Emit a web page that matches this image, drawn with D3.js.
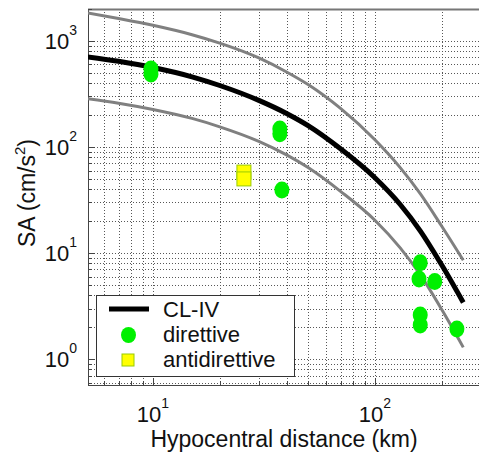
<!DOCTYPE html>
<html>
<head>
<meta charset="utf-8">
<script src="https://cdn.jsdelivr.net/npm/d3@7"></script>
<style>
  body { margin: 0; background: #fff; }
  svg { display: block; font-family: Arial, "Liberation Sans", sans-serif; }
</style>
</head>
<body>
<svg id="chart" width="479" height="456"></svg>
<script>
// attenuation curve CL-IV (median and +/- band)
const distKm   = [5, 7, 10, 15, 20, 30, 40, 50, 70, 100, 130, 160, 200, 250];
const clMedian = [710, 642, 562, 459, 380, 275, 207, 159, 96.1, 51.3, 28.7, 16.2, 7.7, 3.42];
const clUpper  = [1849, 1627, 1403, 1144, 953, 691, 510, 388, 231, 117, 63.9, 36.3, 17.9, 8.56];
const clLower  = [286, 259, 226, 186, 155, 113, 84.2, 64.0, 38.2, 20.4, 11.2, 6.25, 2.93, 1.29];

// recorded spectral accelerations
const dirDist  = [9.8, 9.8, 37.3, 37.3, 38.1, 160, 158, 186, 160, 160, 234];
const dirSA    = [544, 488, 148, 133, 39.3, 8.1, 5.7, 5.4, 2.6, 2.1, 1.92];
const antiDist = [25.7, 25.7];
const antiSA   = [58, 50];

const legendLabels = ["CL-IV", "direttive", "antidirettive"];

const svg = d3.select("#chart");
const pLeft = 88, pTop = 9, pBottom = 385, pRight = 479;

const x = d3.scaleLog().domain([5.1, 300]).range([pLeft, pLeft + 222 * Math.log10(300 / 5.1)]);
const y = d3.scaleLog().domain([0.57, 2000]).range([pBottom, pTop]);

svg.append("defs").append("clipPath").attr("id", "plot")
  .append("rect").attr("x", pLeft).attr("y", pTop).attr("width", pRight - pLeft).attr("height", pBottom - pTop);

// dotted grid, major and minor
const grid = svg.append("g").attr("stroke", "#111").attr("stroke-width", 1)
  .attr("stroke-dasharray", "1,2").attr("opacity", 0.7);
grid.selectAll(".gx").data(x.ticks()).join("line")
  .attr("x1", d => Math.round(x(d)) + 0.5).attr("x2", d => Math.round(x(d)) + 0.5)
  .attr("y1", pTop).attr("y2", pBottom);
grid.selectAll(".gy").data(y.ticks()).join("line")
  .attr("y1", d => Math.round(y(d)) + 0.5).attr("y2", d => Math.round(y(d)) + 0.5)
  .attr("x1", pLeft).attr("x2", pRight);

// axes box (left, bottom, top) with inward ticks
const isMajor = d => Math.abs(Math.log10(d) - Math.round(Math.log10(d))) < 1e-9;
const ax = svg.append("g").attr("stroke", "#444").attr("stroke-width", 1);
ax.append("line").attr("x1", pLeft + 0.5).attr("x2", pLeft + 0.5).attr("y1", pTop).attr("y2", pBottom + 0.5);
ax.append("line").attr("x1", pLeft).attr("x2", pRight).attr("y1", pBottom + 0.5).attr("y2", pBottom + 0.5);
ax.append("line").attr("x1", pLeft).attr("x2", pRight).attr("y1", pTop + 0.5).attr("y2", pTop + 0.5)
  .attr("stroke", "#777").attr("stroke-width", 2);
ax.selectAll(".tx").data(x.ticks()).join("line")
  .attr("x1", d => Math.round(x(d)) + 0.5).attr("x2", d => Math.round(x(d)) + 0.5)
  .attr("y1", pBottom).attr("y2", d => pBottom - (isMajor(d) ? 7 : 4));
ax.selectAll(".ty").data(y.ticks()).join("line")
  .attr("y1", d => Math.round(y(d)) + 0.5).attr("y2", d => Math.round(y(d)) + 0.5)
  .attr("x1", pLeft).attr("x2", d => pLeft + (isMajor(d) ? 7 : 4));

// tick labels 10^n
const xMajor = x.ticks().filter(isMajor);
const yMajor = y.ticks().filter(isMajor);
const xl = svg.append("g").selectAll("text").data(xMajor).join("text")
  .attr("x", d => x(d)).attr("y", 422).attr("text-anchor", "middle")
  .attr("font-size", 22).attr("fill", "#111");
xl.append("tspan").text("10");
xl.append("tspan").attr("dy", -14).attr("font-size", 14).text(d => Math.round(Math.log10(d)));

const yl = svg.append("g").selectAll("text").data(yMajor).join("text")
  .attr("x", 77).attr("y", d => y(d) + 8).attr("text-anchor", "end")
  .attr("font-size", 22).attr("fill", "#111");
yl.append("tspan").text("10");
yl.append("tspan").attr("dy", -14).attr("font-size", 14).text(d => Math.round(Math.log10(d)));

// axis titles
svg.append("text").attr("x", 284).attr("y", 447).attr("text-anchor", "middle")
  .attr("font-size", 23).attr("fill", "#111").text("Hypocentral distance (km)");
const yt = svg.append("text").attr("transform", "translate(35,193) rotate(-90)")
  .attr("text-anchor", "middle").attr("font-size", 23).attr("fill", "#111");
yt.append("tspan").text("SA (cm/s");
yt.append("tspan").attr("dy", -10).attr("font-size", 15).text("2");
yt.append("tspan").attr("dy", 10).text(")");

// curves
const plot = svg.append("g").attr("clip-path", "url(#plot)");
const line = vals => d3.line().x((d, i) => x(distKm[i])).y(d => y(d)).curve(d3.curveMonotoneX)(vals);
plot.append("path").attr("d", line(clUpper)).attr("fill", "none").attr("stroke", "#808080").attr("stroke-width", 3);
plot.append("path").attr("d", line(clLower)).attr("fill", "none").attr("stroke", "#808080").attr("stroke-width", 3);
plot.append("path").attr("d", line(clMedian)).attr("fill", "none").attr("stroke", "#000").attr("stroke-width", 5);

// markers
plot.selectAll(".dir").data(dirSA).join("ellipse")
  .attr("cx", (d, i) => x(dirDist[i])).attr("cy", d => y(d))
  .attr("rx", 7.5).attr("ry", 8.5).attr("fill", "#00f000");
plot.selectAll(".anti").data(antiSA).join("rect")
  .attr("x", (d, i) => x(antiDist[i]) - 7).attr("y", d => y(d) - 7)
  .attr("width", 14).attr("height", 14)
  .attr("fill", "#ffff00").attr("stroke", "#99cc00").attr("stroke-width", 1);

// legend
const lg = svg.append("g");
lg.append("rect").attr("x", 96.5).attr("y", 295.5).attr("width", 198).attr("height", 81)
  .attr("fill", "#fff").attr("stroke", "#333").attr("stroke-width", 1);
lg.append("line").attr("x1", 109).attr("x2", 149).attr("y1", 309).attr("y2", 309)
  .attr("stroke", "#000").attr("stroke-width", 5);
lg.append("ellipse").attr("cx", 128.5).attr("cy", 335).attr("rx", 7.5).attr("ry", 8)
  .attr("fill", "#00f000");
lg.append("rect").attr("x", 122).attr("y", 354).attr("width", 12).attr("height", 12)
  .attr("fill", "#ffff00").attr("stroke", "#99cc00");
lg.selectAll("text").data(legendLabels).join("text")
  .attr("x", 163).attr("y", (d, i) => 317 + i * 25)
  .attr("font-size", 22).attr("fill", "#111").text(d => d);
</script>
</body>
</html>
